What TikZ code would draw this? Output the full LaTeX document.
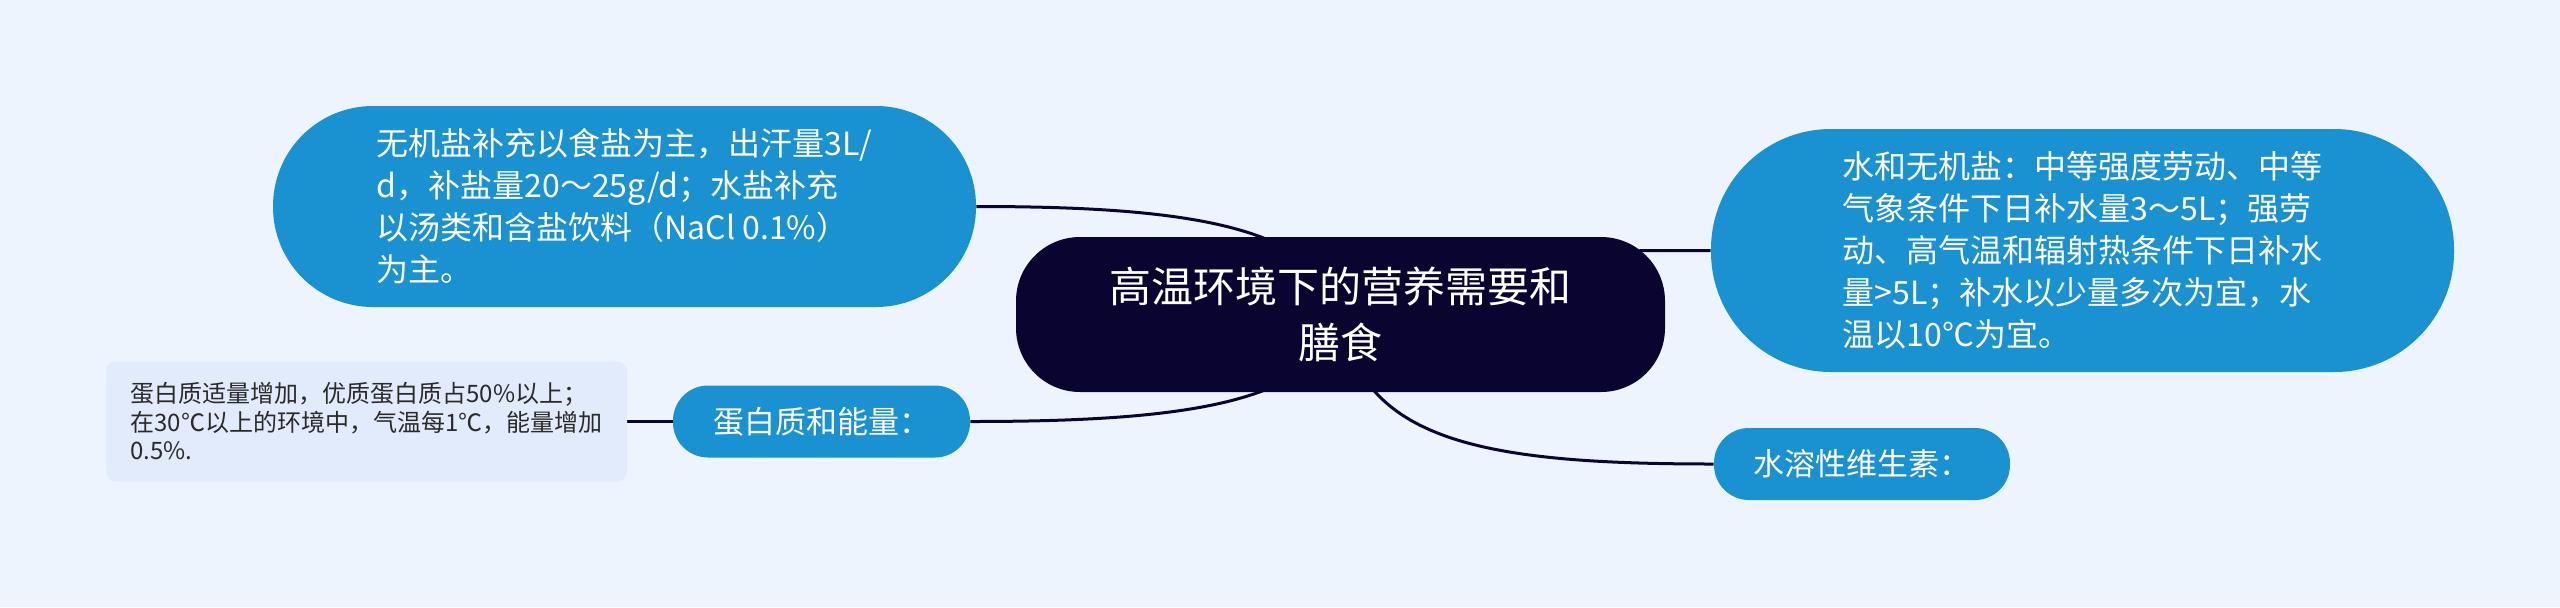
\documentclass[tikz,border=0pt]{standalone}
\usepackage{fontspec}
\newfontfamily\cjk{Noto Sans CJK SC}
\usetikzlibrary{backgrounds}
\definecolor{bg}{HTML}{EEF4FE}
\definecolor{nodeblue}{HTML}{1A91D1}
\definecolor{navy}{HTML}{0A0530}
\definecolor{leaffill}{HTML}{E1EBFC}
\definecolor{leaftext}{HTML}{2A2A2A}
\begin{document}
\begin{tikzpicture}[x=0.5pt,y=-0.5pt,
  bluebig/.style={rectangle,fill=nodeblue,text=white,inner sep=0pt,align=left,
    font=\cjk\fontsize{16pt}{21pt}\selectfont},
  bluesmall/.style={rectangle,fill=nodeblue,text=white,inner sep=0pt,align=left,
    minimum height=36pt,rounded corners=17.5pt,
    font=\cjk\fontsize{15.5pt}{20pt}\selectfont},
  centerbox/.style={rectangle,fill=navy,text=white,inner sep=0pt,align=center,
    minimum width=324.5pt,minimum height=77.5pt,rounded corners=32pt,
    font=\cjk\fontsize{21pt}{28pt}\selectfont},
  leafbox/.style={rectangle,fill=leaffill,text=leaftext,inner sep=0pt,align=left,
    minimum width=260.5pt,minimum height=60pt,rounded corners=5pt,
    font=\cjk\fontsize{12pt}{14.25pt}\selectfont},
  conn/.style={draw=navy,line width=1.5pt}]
\useasboundingbox (0,0) rectangle (2560,607);

\node[centerbox] (c) at (1340.5,314.5) {高温环境下的营养需要和\\膳食};

\node[bluebig,minimum width=351.5pt,minimum height=100.5pt,rounded corners=50pt] (tl) at (624.5,206.5)
  {无机盐补充以食盐为主，出汗量3L/\\d，补盐量20～25g/d；水盐补充\\以汤类和含盐饮料（NaCl 0.1\%）\\为主。};

\node[bluebig,minimum width=371.5pt,minimum height=121.5pt,rounded corners=60pt] (rt) at (2082.5,250.5)
  {水和无机盐：中等强度劳动、中等\\气象条件下日补水量3～5L；强劳\\动、高气温和辐射热条件下日补水\\量>5L；补水以少量多次为宜，水\\温以10℃为宜。};

\node[bluesmall,minimum width=148.5pt] (pr) at (821.5,421.5) {蛋白质和能量：};

\node[bluesmall,minimum width=148pt] (wa) at (1862,464) {水溶性维生素：};

\node[leafbox] (lf) at (366.5,421.5)
  {蛋白质适量增加，优质蛋白质占50\%以上；\\在30℃以上的环境中，气温每1℃，能量增加\\0.5\%.};

\begin{scope}[on background layer]
  \fill[bg] (0,0) rectangle (2560,607);
  \draw[conn] (tl.east) .. controls +(204.5,0) and +(-20,-90) .. (c.center);
  \draw[conn] (pr.east) .. controls +(210,0) and +(-20,90) .. (c.center);
  \draw[conn] (c.center) .. controls +(110,-64) and +(-161,0) .. (rt.west);
  \draw[conn] (c.center) .. controls +(20,126) and +(-234,0) .. (wa.west);
  \draw[conn] (lf.east) -- (pr.west);
\end{scope}
\end{tikzpicture}
\end{document}
